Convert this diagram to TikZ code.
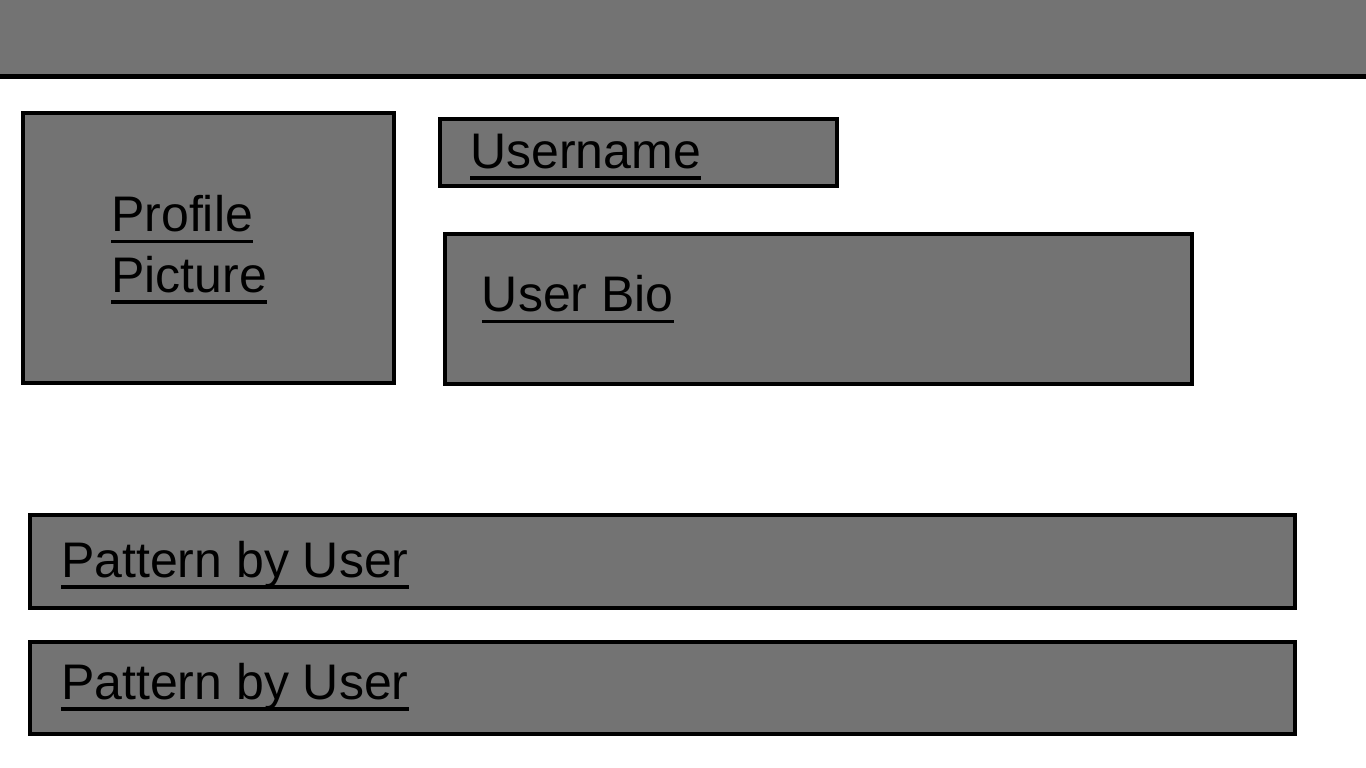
\documentclass[tikz,border=0pt]{standalone}
\usepackage{fontspec}
\setmainfont{Liberation Sans}
\usetikzlibrary{positioning}
\definecolor{boxgray}{RGB}{115,115,115}
\newcommand{\ulink}[1]{\setbox0\hbox{#1}\rlap{\rule[-11.5pt]{\wd0}{3.5pt}}\box0}
\tikzset{
        x=1pt, y=-1pt, % pixel grid, y grows downwards
        panel/.style={draw, fill=boxgray, line width=4pt, inner sep=0pt, outer sep=0pt, anchor=north west}, % grey wireframe boxes
        caption/.style={inner sep=0pt, anchor=base west, align=left, font=\fontsize{50}{60.5}\selectfont}, % underlined labels
    }
\begin{document}
\begin{tikzpicture}
    \useasboundingbox (0,0) rectangle (1366,768);
    \node[fill=boxgray, inner sep=0pt, outer sep=0pt, minimum width=1366pt, minimum height=76.5pt, anchor=north west] (topbar) at (0,0) {};
    \draw[line width=4.5pt] (topbar.south west) -- (topbar.south east);
    \node[panel, minimum width=371pt, minimum height=270pt] (picture) at (23,113) {};
    \node[panel, minimum width=397pt, minimum height=66.5pt] (username) at (440.3,119.3) {};
    \node[panel, minimum width=747.5pt, minimum height=150.5pt] (bio) at (444.7,233.7) {};
    \node[panel, minimum width=1265pt, minimum height=93pt] (pattern1) at (30.3,515.3) {};
    \node[panel, minimum width=1265pt, minimum height=92pt] (pattern2) at (30.3,642) {};
    \node[caption] (picturetext) at (111,292.3) {\ulink{Profile}\\\ulink{Picture}};
    \node[caption] (usernametext) at (470,168.3) {\ulink{Username}};
    \node[caption] (biotext) at (481.7,311.7) {\ulink{User Bio}};
    \node[caption] (pattern1text) at (61,577.3) {\ulink{Pattern by User}};
    \node[caption] (pattern2text) at (61,699) {\ulink{Pattern by User}};
  \end{tikzpicture}
\end{document}
